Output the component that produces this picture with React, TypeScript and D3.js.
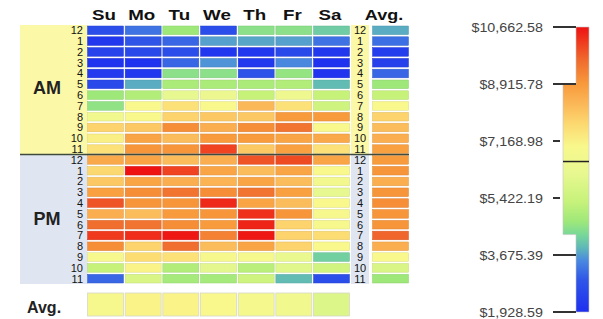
import React from 'react';
import * as d3 from 'd3';

const days = ['Su', 'Mo', 'Tu', 'We', 'Th', 'Fr', 'Sa'];
const hourLabels = ['12', '1', '2', '3', '4', '5', '6', '7', '8', '9', '10', '11'];

// sales per hour, 12 AM .. 11 PM
const su = [2700, 2150, 2450, 2050, 2200, 2600, 4700, 4550, 6600, 7800, 7200, 7500,
  8600, 7700, 8000, 8800, 9900, 8500, 9600, 10200, 9100, 6900, 5300, 3100];
const mo = [3250, 2900, 2600, 2000, 2150, 3800, 5000, 7000, 7000, 8000, 8700, 9000,
  8700, 10650, 8700, 9100, 9000, 8200, 9500, 10350, 7800, 7600, 7100, 5800];
const tu = [4700, 3100, 2700, 3100, 4500, 4900, 6200, 7500, 7800, 9100, 8200, 9000,
  8200, 10100, 8500, 9500, 9000, 8900, 9100, 10600, 9600, 7500, 5000, 4800];
const we = [2700, 3700, 2100, 3600, 4500, 4900, 6400, 7000, 8000, 8500, 8900, 10100,
  8500, 8700, 8400, 9100, 10400, 9000, 8900, 9300, 8200, 6900, 6100, 4800];
const th = [4500, 3750, 2100, 2150, 2850, 4900, 5300, 8300, 8000, 9100, 8900, 8000,
  9900, 8200, 8700, 9500, 8700, 10300, 10450, 10600, 8700, 6800, 5100, 5500];
const fr = [4500, 3700, 2600, 3500, 4600, 5000, 6500, 7500, 8900, 9500, 8700, 8800,
  10000, 8700, 8200, 8800, 8200, 9000, 7800, 7800, 7800, 6300, 6000, 3950];
const sa = [4150, 3250, 2150, 2000, 2050, 3950, 5300, 5500, 8900, 7000, 8600, 7500,
  8700, 7000, 6700, 6200, 7000, 6900, 6900, 7600, 7000, 4200, 5600, 2700];
const hourAvg = [3800, 3200, 2300, 2400, 3100, 4700, 5300, 7000, 7800, 8200, 8500, 8800,
  8900, 9000, 8500, 9000, 9100, 9000, 9000, 9700, 8500, 7000, 5800, 4700];
const dayAvg = [6900, 7100, 7100, 7000, 6800, 6600, 5900];

const legendTicks = [10662.58, 8915.78, 7168.98, 5422.19, 3675.39, 1928.59];
const legendBand = [4300, 8915.78];
const legendMarker = 6540;

const colorValues = [1928.59, 2900, 3500, 3900, 4300, 4700, 5300, 6200, 7000, 7700, 8300, 8916, 9600, 10662.58];
const colorHexes = ['#1e2ff0', '#2f55e8', '#4a88e0', '#5fb8b8', '#78d898', '#9ee87a', '#c6f27a',
  '#e8f890', '#f8f88c', '#fcd870', '#fbb858', '#f89a3c', '#f06e2e', '#ee1212'];

const series = [su, mo, tu, we, th, fr, sa];
const font = '"Liberation Sans", Arial, sans-serif';

export default function App() {
  const color = d3.scaleLinear<string>().domain(colorValues).range(colorHexes).interpolate(d3.interpolateRgb);

  const x = d3.scaleBand().domain(days).range([87.5, 349.5]).paddingInner(0.045);
  const hours = d3.range(24);
  const y = d3.scaleBand<number>().domain(hours).range([26, 283]).paddingInner(0.2);
  const avgX0 = 372.5, avgW = 36;
  const avgRowY = 293, avgRowH = 23;
  const divY = (y(11)! + y.bandwidth() + y(12)!) / 2;

  const yL = d3.scaleLinear().domain([1928.59, 10662.58]).range([312, 27]);
  const barX0 = 576, barX1 = 589, wideX0 = 563, tickX0 = 553;
  const legendPath = `M${barX0},${yL(10662.58)}H${barX1}V${yL(1928.59)}H${barX0}V${yL(legendBand[0])}H${wideX0}V${yL(legendBand[1])}H${barX0}Z`;

  const cellStroke = (c: string) => d3.color(c)!.darker(0.35).formatHex();

  return (
    <svg width={603} height={319} style={{ position: 'absolute', left: 0, top: 0, background: '#fff' }} fontFamily={font}>
      <defs>
        <linearGradient id="lg" gradientUnits="userSpaceOnUse" x1={0} x2={0} y1={yL(1928.59)} y2={yL(10662.58)}>
          {colorValues.map((v, i) => (
            <stop key={i} offset={(v - 1928.59) / (10662.58 - 1928.59)} stopColor={colorHexes[i]} />
          ))}
        </linearGradient>
      </defs>

      {/* label panels */}
      <rect x={20} y={25} width={67.5} height={divY - 25} fill="#fbf8a8" />
      <rect x={20} y={divY} width={67.5} height={284 - divY} fill="#dfe6f1" />
      <rect x={351} y={25} width={18} height={divY - 25} fill="#fbf8a8" />
      <rect x={351} y={divY} width={18} height={284 - divY} fill="#dfe6f1" />

      {/* column headers */}
      {days.map(d => (
        <text key={d} transform={`translate(${x(d)! + x.bandwidth() / 2 - 1.5},20) scale(1.25,1)`}
          textAnchor="middle" fontSize={15} fontWeight="bold" fill="#111">{d}</text>
      ))}
      <text transform={`translate(384,20) scale(1.2,1)`} textAnchor="middle" fontSize={15} fontWeight="bold" fill="#111">Avg.</text>

      {/* AM / PM */}
      <text x={47} y={94} textAnchor="middle" fontSize={18} fontWeight="bold" fill="#222">AM</text>
      <text x={47} y={225} textAnchor="middle" fontSize={18} fontWeight="bold" fill="#222">PM</text>

      {/* hour labels */}
      {hours.map(h => (
        <g key={h}>
          <text x={83} y={y(h)! + y.bandwidth() / 2} dy="0.36em" textAnchor="end" fontSize={11} fill="#111">{hourLabels[h % 12]}</text>
          <text x={360} y={y(h)! + y.bandwidth() / 2} dy="0.36em" textAnchor="middle" fontSize={11} fill="#111">{hourLabels[h % 12]}</text>
        </g>
      ))}

      {/* heat cells */}
      {series.map((s, di) => s.map((v, h) => (
        <rect key={`${di}-${h}`} x={x(days[di])} y={y(h)} width={x.bandwidth()} height={y.bandwidth()}
          fill={color(v)} stroke={cellStroke(color(v))} strokeWidth={0.5} />
      )))}
      {hourAvg.map((v, h) => (
        <rect key={`a${h}`} x={avgX0} y={y(h)} width={avgW} height={y.bandwidth()}
          fill={color(v)} stroke={cellStroke(color(v))} strokeWidth={0.5} />
      ))}

      <line x1={20} x2={409} y1={divY} y2={divY} stroke="#3e4a3c" strokeWidth={1.5} />

      {/* day averages */}
      <text x={27} y={313} fontSize={16} fontWeight="bold" fill="#222">Avg.</text>
      {dayAvg.map((v, i) => (
        <rect key={`d${i}`} x={x(days[i])} y={avgRowY} width={x.bandwidth()} height={avgRowH}
          fill={color(v)} stroke="#d8d8c8" strokeWidth={0.8} />
      ))}

      {/* legend */}
      <path d={legendPath} fill="url(#lg)" stroke="#c8c8c8" strokeWidth={0.6} />
      <line x1={wideX0} x2={barX1} y1={yL(legendMarker)} y2={yL(legendMarker)} stroke="#222" strokeWidth={1.5} />
      {legendTicks.map(t => {
        const yy = yL(t);
        const inWide = t > legendBand[0] && t < legendBand[1];
        return (
          <g key={t}>
            <line x1={tickX0} x2={inWide ? wideX0 - 3 : barX0} y1={yy} y2={yy} stroke="#333" strokeWidth={2} />
            <text transform={`translate(543,${yy}) scale(1.1,1)`} dy="0.36em" textAnchor="end" fontSize={13} fill="#444">
              {d3.format('$,.2f')(t)}
            </text>
          </g>
        );
      })}
    </svg>
  );
}
